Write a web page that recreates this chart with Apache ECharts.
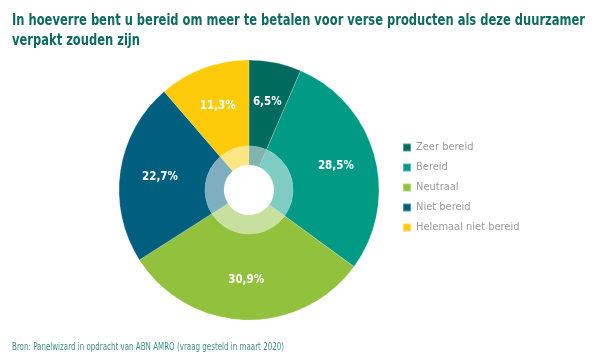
<!DOCTYPE html>
<html>
<head>
<meta charset="utf-8">
<script src="https://cdn.jsdelivr.net/npm/echarts@6/dist/echarts.min.js"></script>
<style>
html,body{margin:0;padding:0;background:#fff;}
#main{width:600px;height:359px;}
</style>
</head>
<body>
<div id="main"></div>
<script>
const titleText = 'In hoeverre bent u bereid om meer te betalen voor verse producten als deze duurzamer\nverpakt zouden zijn';
const sourceText = 'Bron: Panelwizard in opdracht van ABN AMRO (vraag gesteld in maart 2020)';
const categories = ['Zeer bereid', 'Bereid', 'Neutraal', 'Niet bereid', 'Helemaal niet bereid'];
const values = [6.5, 28.5, 30.9, 22.7, 11.3];
const colors = ['#006a5f', '#009a85', '#92c13e', '#005e7e', '#fdcb0a'];

const FONT = "'DejaVu Sans Condensed', 'Liberation Sans', sans-serif";

const outerData = categories.map((c, i) => ({ name: c, value: values[i], itemStyle: { color: colors[i] } }));
const innerData = categories.map((c, i) => ({ name: c, value: values[i], itemStyle: { color: colors[i], opacity: 0.5 } }));

const chart = echarts.init(document.getElementById('main'), null, { renderer: 'canvas' });
chart.setOption({
  animation: false,
  backgroundColor: '#ffffff',
  graphic: [
    {
      type: 'text',
      x: 12, y: 11,
      scaleX: 0.853,
      silent: true,
      style: {
        text: titleText,
        fontFamily: FONT, fontSize: 15, fontWeight: 'bold',
        fill: '#0f6b60', lineHeight: 20,
        textVerticalAlign: 'top'
      }
    },
    {
      type: 'text',
      x: 12, y: 342,
      scaleX: 0.79,
      silent: true,
      style: {
        text: sourceText,
        fontFamily: FONT, fontSize: 10,
        fill: '#3f8f86',
        textVerticalAlign: 'top'
      }
    }
  ],
  legend: {
    orient: 'vertical',
    left: 397, top: 137,
    icon: 'rect',
    itemWidth: 8, itemHeight: 8,
    itemGap: 9,
    data: categories,
    selectedMode: false,
    textStyle: { fontFamily: FONT, fontSize: 11, color: '#9a9a9a' }
  },
  series: [
    {
      type: 'pie',
      center: [249, 190],
      radius: [44, 130],
      startAngle: 90,
      clockwise: true,
      silent: true,
      data: outerData,
      itemStyle: { borderColor: 'rgba(255,255,255,0.35)', borderWidth: 0.6 },
      label: {
        show: true,
        position: 'inside',
        color: '#ffffff',
        fontFamily: FONT,
        fontSize: 11.5,
        fontWeight: 'bold',
        formatter: p => p.value.toFixed(1).replace('.', ',') + '%'
      },
      labelLine: { show: false }
    },
    {
      type: 'pie',
      center: [249, 190],
      radius: [25, 44],
      startAngle: 90,
      clockwise: true,
      silent: true,
      legendHoverLink: false,
      data: innerData,
      itemStyle: { borderColor: 'rgba(255,255,255,0.35)', borderWidth: 0.6 },
      label: { show: false },
      labelLine: { show: false }
    }
  ]
});
</script>
</body>
</html>
